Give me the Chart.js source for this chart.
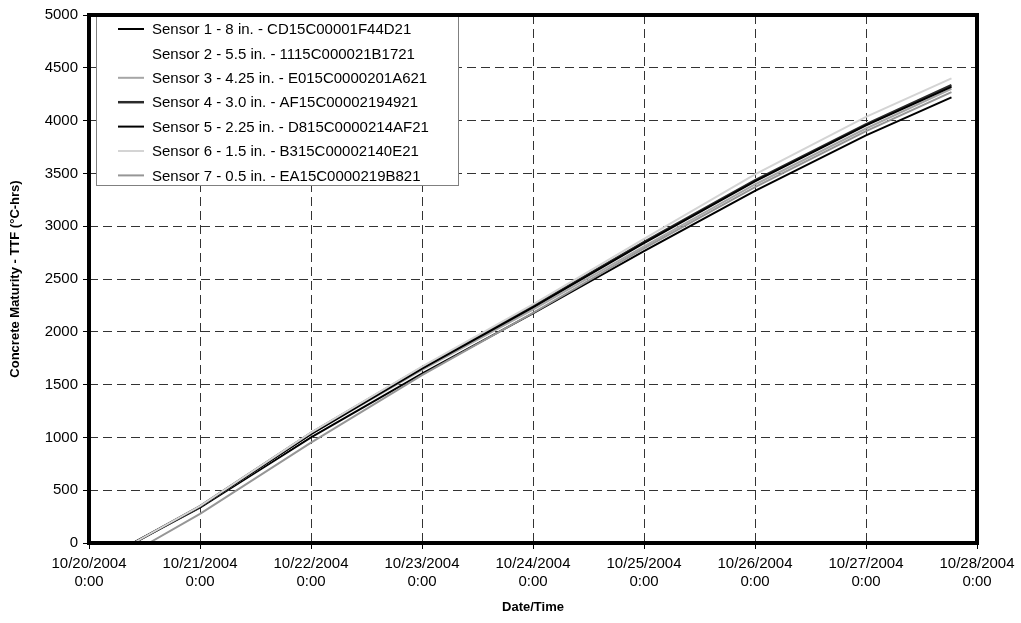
<!DOCTYPE html>
<html>
<head>
<meta charset="utf-8">
<script src="https://cdn.jsdelivr.net/npm/chart.js@4/dist/chart.umd.min.js"></script>
<style>
  html, body { margin: 0; padding: 0; background: #fff; }
  #wrap { width: 1021px; height: 623px; }
</style>
</head>
<body>
<div id="wrap"><canvas id="maturityChart" width="1021" height="623"></canvas></div>
<script>
// days since 10/20/2004 0:00
const days = [1, 2, 3, 4, 5, 6, 7, 7.77];
const startDays = [0.40, 0.40, 0.41, 0.40, 0.40, 0.40, 0.54];

const sensorNames = [
  'Sensor 1 - 8 in. - CD15C00001F44D21',
  'Sensor 2 - 5.5 in. - 1115C000021B1721',
  'Sensor 3 - 4.25 in. - E015C0000201A621',
  'Sensor 4 - 3.0 in. - AF15C00002194921',
  'Sensor 5 - 2.25 in. - D815C0000214AF21',
  'Sensor 6 - 1.5 in. - B315C00002140E21',
  'Sensor 7 - 0.5 in. - EA15C0000219B821'
];

const sensor1 = [335, 1000, 1605, 2175, 2765, 3335, 3860, 4220];
const sensor2 = [342, 1025, 1645, 2225, 2830, 3410, 3940, 4310];
const sensor3 = [345, 1030, 1640, 2210, 2810, 3395, 3925, 4300];
const sensor4 = [348, 1040, 1660, 2240, 2850, 3435, 3965, 4335];
const sensor5 = [342, 1030, 1652, 2232, 2840, 3425, 3955, 4320];
const sensor6 = [350, 1045, 1670, 2260, 2880, 3490, 4035, 4400];
const sensor7 = [275, 950, 1590, 2180, 2790, 3370, 3900, 4270];

const xTickLabels = [
  ['10/20/2004', '0:00'], ['10/21/2004', '0:00'], ['10/22/2004', '0:00'],
  ['10/23/2004', '0:00'], ['10/24/2004', '0:00'], ['10/25/2004', '0:00'],
  ['10/26/2004', '0:00'], ['10/27/2004', '0:00'], ['10/28/2004', '0:00']
];

const sensorValues = [sensor1, sensor2, sensor3, sensor4, sensor5, sensor6, sensor7];
const lineColors = ['#000000', '#ffffff', '#a6a6a6', '#2b2b2b', '#000000', '#d4d4d4', '#969696'];
const lineWidths = [2, 1.5, 2, 2.5, 2, 2, 2];

const FONT = "'Liberation Sans', Arial, sans-serif";

// build point lists for each sensor
function buildPoints(i) {
  const pts = [{ x: startDays[i], y: 0 }];
  days.forEach((d, k) => pts.push({ x: d, y: sensorValues[i][k] }));
  return pts;
}

const datasets = sensorNames.map((name, i) => ({
  label: name,
  data: buildPoints(i),
  borderColor: lineColors[i],
  backgroundColor: lineColors[i],
  borderWidth: lineWidths[i],
  pointRadius: 0,
  tension: 0,
  order: sensorNames.length - 1 - i
}));

// legend box inside the plot, like the Excel one
const boxLegend = {
  id: 'boxLegend',
  afterDatasetsDraw(chart) {
    const ctx = chart.ctx;
    const x0 = 96, y0 = 15, w = 362, h = 170;
    ctx.save();
    ctx.fillStyle = '#fff';
    ctx.fillRect(x0, y0, w, h);
    ctx.strokeStyle = '#808080';
    ctx.lineWidth = 1;
    ctx.strokeRect(x0 + 0.5, y0 + 0.5, w, h);
    ctx.font = '15px ' + FONT;
    ctx.textBaseline = 'middle';
    ctx.fillStyle = '#000';
    chart.data.datasets.forEach((ds, i) => {
      const y = 29 + i * 24.4;
      ctx.beginPath();
      ctx.strokeStyle = ds.borderColor;
      ctx.lineWidth = ds.borderWidth;
      ctx.moveTo(118, y);
      ctx.lineTo(144, y);
      ctx.stroke();
      ctx.fillText(ds.label, 152, y + 1);
    });
    ctx.restore();
  }
};

// thick frame around the plot area
const plotFrame = {
  id: 'plotFrame',
  afterDraw(chart) {
    const a = chart.chartArea;
    const ctx = chart.ctx;
    ctx.save();
    ctx.strokeStyle = '#000';
    ctx.lineWidth = 4;
    ctx.strokeRect(a.left, a.top, a.right - a.left, a.bottom - a.top);
    ctx.restore();
  }
};

new Chart(document.getElementById('maturityChart'), {
  type: 'line',
  data: { datasets: datasets },
  options: {
    responsive: false,
    animation: false,
    layout: { padding: { top: 15, right: 44, left: 0, bottom: 0 } },
    plugins: {
      legend: { display: false },
      tooltip: { enabled: false }
    },
    scales: {
      x: {
        type: 'linear',
        min: 0,
        max: 8,
        afterFit: s => { s.height = 80; },
        ticks: {
          stepSize: 1,
          color: '#000',
          padding: 6,
          maxRotation: 0,
          font: { family: FONT, size: 15, lineHeight: 1.2 },
          callback: v => xTickLabels[v]
        },
        grid: { color: '#333', tickColor: '#000', tickLength: 6, tickBorderDash: [] },
        border: { display: false, dash: [9, 5] },
        title: {
          display: true,
          text: 'Date/Time',
          color: '#000',
          font: { family: FONT, size: 13, weight: 'bold' },
          padding: { top: 0, bottom: 8 }
        }
      },
      y: {
        min: 0,
        max: 5000,
        afterFit: s => { s.width = 89; },
        ticks: {
          stepSize: 500,
          color: '#000',
          padding: 5,
          font: { family: FONT, size: 15 },
          callback: v => String(v)
        },
        grid: { color: '#333', tickColor: '#000', tickLength: 6, tickBorderDash: [] },
        border: { display: false, dash: [9, 5] },
        title: {
          display: true,
          text: 'Concrete Maturity - TTF (°C-hrs)',
          color: '#000',
          font: { family: FONT, size: 13, weight: 'bold' },
          padding: { top: 8, bottom: 0 }
        }
      }
    }
  },
  plugins: [boxLegend, plotFrame]
});
</script>
</body>
</html>
